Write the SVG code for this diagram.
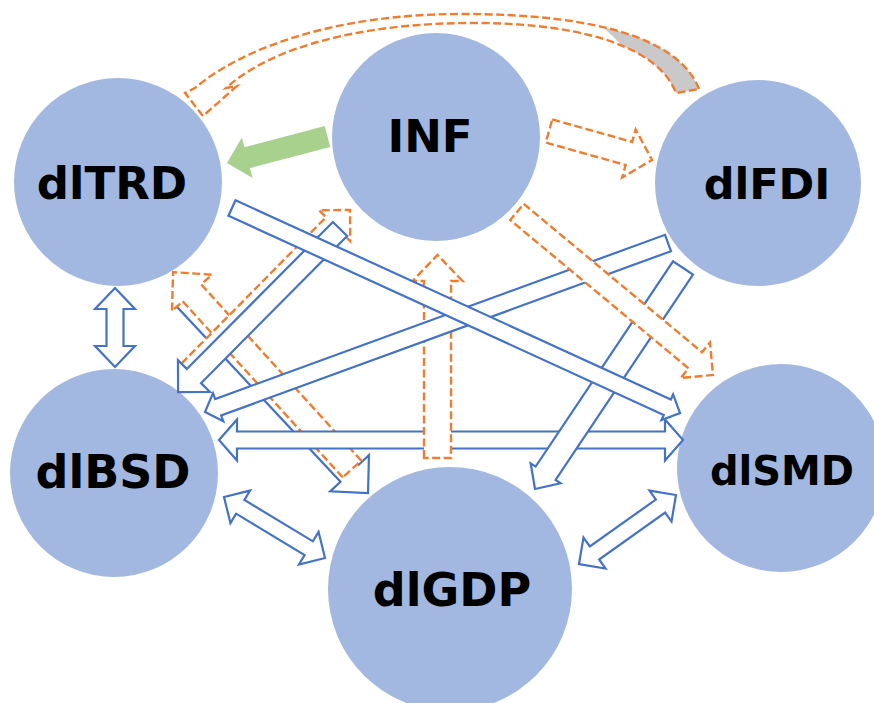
<svg xmlns="http://www.w3.org/2000/svg" width="874" height="703" viewBox="0 0 874 703">
  <style>
    .node { fill: #A2B8E0; }
    .label { font-family: "DejaVu Sans", "Liberation Sans", sans-serif; font-weight: bold; font-size: 45px; fill: #000; text-anchor: middle; }
    .blue { fill: #FFFFFF; stroke: #4472C4; stroke-width: 2.2; stroke-linejoin: miter; }
    .orange { fill: #FFFFFF; stroke: #ED7D31; stroke-width: 2.4; stroke-dasharray: 8 3.5; }
    .green { fill: #A9D18E; stroke: none; }
  </style>

  <!-- nodes -->
  <g id="node-dlTRD">
    <circle class="node" cx="118" cy="182" r="104"/>
    <text class="label" x="112" y="199">dlTRD</text>
  </g>
  <g id="node-INF">
    <circle class="node" cx="436" cy="137" r="104"/>
    <text class="label" x="430" y="152">INF</text>
  </g>
  <g id="node-dlFDI">
    <circle class="node" cx="758" cy="183" r="103"/>
    <text class="label" x="767" y="199" style="font-size:43px">dlFDI</text>
  </g>
  <g id="node-dlBSD">
    <circle class="node" cx="114" cy="473" r="104"/>
    <text class="label" x="113" y="488" style="font-size:46px">dlBSD</text>
  </g>
  <g id="node-dlSMD">
    <circle class="node" cx="781" cy="468" r="104"/>
    <text class="label" x="782" y="485" style="font-size:40px">dlSMD</text>
  </g>
  <g id="node-dlGDP">
    <circle class="node" cx="450" cy="589" r="122"/>
    <text class="label" x="452" y="606" style="font-size:46px">dlGDP</text>
  </g>

  <!-- connectors -->
  <g id="connectors">
    <!-- dlTRD -> dlGDP -->
    <polygon class="blue" transform="translate(183,295) rotate(46.94)" points="0,-12.5 244,-12.5 244,-26.5 271,0 244,26.5 244,12.5 0,12.5"/>
    <!-- dlGDP -> dlTRD -->
    <polygon class="orange" transform="translate(352,469) rotate(-132.26)" points="0,-12.5 238,-12.5 238,-27 266,0 238,27 238,12.5 0,12.5"/>
    <!-- dlBSD -> INF -->
    <polygon class="orange" transform="translate(190,372) rotate(-45.35)" points="0,-12 205.7,-12 205.7,-22 227.7,0 205.7,22 205.7,12 0,12"/>
    <!-- dlBSD <-> dlSMD -->
    <polygon class="blue" transform="translate(219,440)" points="0,0 18,-20.5 18,-8.5 446,-8.5 446,-20.5 464,0 446,20.5 446,8.5 18,8.5 18,20.5"/>
    <!-- dlGDP -> INF -->
    <polygon class="orange" transform="translate(437.5,458) rotate(-90)" points="0,-13.5 177,-13.5 177,-25 203,0 177,25 177,13.5 0,13.5"/>
    <!-- INF -> dlBSD -->
    <polygon class="blue" transform="translate(340,229) rotate(134.8)" points="0,-10 207.3,-10 207.3,-22.5 229.8,0 207.3,22.5 207.3,10 0,10"/>
    <!-- dlFDI -> dlBSD -->
    <polygon class="blue" transform="translate(668,243) rotate(159.94)" points="0,-8.7 478.9,-8.7 478.9,-15 492.9,0 478.9,15 478.9,8.7 0,8.7"/>
    <!-- dlFDI -> dlGDP -->
    <polygon class="blue" transform="translate(683,268) rotate(123.8)" points="0,-12 247,-12 247,-18 266,0 247,18 247,12 0,12"/>
    <!-- dlTRD -> dlSMD -->
    <polygon class="blue" transform="translate(232,208) rotate(24.59)" points="0,-8.5 478.7,-8.5 478.7,-14 492.7,0 478.7,14 478.7,8.5 0,8.5"/>
    <!-- INF -> dlSMD -->
    <polygon class="orange" transform="translate(517,212) rotate(39.75)" points="0,-10.5 231.9,-10.5 231.9,-23 254.9,0 231.9,23 231.9,10.5 0,10.5"/>
    <!-- dlTRD <-> dlBSD -->
    <polygon class="blue" transform="translate(115,288) rotate(90)" points="0,0 21,-20 21,-8.5 58,-8.5 58,-20 79,0 58,20 58,8.5 21,8.5 21,20"/>
    <!-- dlBSD <-> dlGDP -->
    <polygon class="blue" transform="translate(224,497) rotate(31.13)" points="0,0 19,-19 19,-8 99,-8 99,-19 118,0 99,19 99,8 19,8 19,19"/>
    <!-- dlGDP <-> dlSMD -->
    <polygon class="blue" transform="translate(579,564) rotate(-35.42)" points="0,0 19,-19 19,-8 100,-8 100,-19 119,0 100,19 100,8 19,8 19,19"/>
    <!-- INF -> dlTRD -->
    <polygon class="green" transform="translate(327.5,136.5) rotate(165.2)" points="0,-10.8 83,-10.8 83,-21 104,0 83,21 83,10.8 0,10.8"/>
    <!-- INF -> dlFDI -->
    <polygon class="orange" transform="translate(549,131) rotate(15.72)" points="0,-12 83,-12 83,-25 107,0 83,25 83,12 0,12"/>
    <!-- dlFDI -> dlTRD (curved over the top) -->
    <path fill="#FFFFFF" d="M699,89 C680,40 600,14 462,14 C330,14 240,50 195,88 L185,93 L203,116 L237,86 L226,88 C270,48 360,22 480,23 C590,24 660,50 676,93 Z"/>
    <path fill="#C9C9C9" d="M699,89 C689.5,64.5 664.75,45.75 625,33 Q612,29 603,27 L622.8,46 C650.7,57.7 668.8,73.65 676,93 Z"/>
    <path class="orange" style="fill:none" d="M699,89 C680,40 600,14 462,14 C330,14 240,50 195,88 L185,93 L203,116 L237,86 L226,88 C270,48 360,22 480,23 C590,24 660,50 676,93 Z"/>
  </g>
</svg>
